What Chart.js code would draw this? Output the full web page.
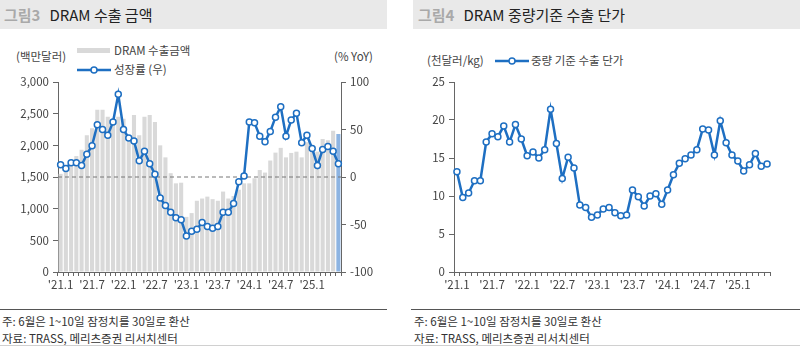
<!DOCTYPE html>
<html>
<head>
<meta charset="utf-8">
<script src="https://cdn.jsdelivr.net/npm/chart.js@4.4.1/dist/chart.umd.min.js"></script>
<style>
  body { margin: 0; width: 800px; height: 346px; background: #fff; position: relative; overflow: hidden;
         font-family: 'Noto Sans CJK KR', 'Noto Sans', sans-serif; color: #404040; }
  .abs { position: absolute; white-space: nowrap; }
  .band { position: absolute; top: 0; height: 29px; background: #e9e9e9; }
  .title { position: absolute; top: 4px; font-size: 15px; color: #222; }
  .title b { color: #a9a9a9; font-weight: bold; margin-right: 9px; }
  .unit { font-size: 11.5px; color: #444; }
  .leg { font-size: 11.5px; color: #444; }
  .foot { font-size: 11.5px; color: #333; }
  .rule { position: absolute; height: 1px; background: #555; }
</style>
</head>
<body>
<div class="band" style="left:0;width:387px"></div>
<div class="band" style="left:413px;width:387px"></div>
<div class="title" style="left:4px"><b>그림3</b>DRAM 수출 금액</div>
<div class="title" style="left:418px"><b>그림4</b>DRAM 중량기준 수출 단가</div>

<div class="abs unit" style="left:16px;top:48px">(백만달러)</div>
<div class="abs unit" style="left:334px;top:48px">(% YoY)</div>
<div class="abs" style="left:77px;top:48px;width:33px;height:5px;background:#d9d9d9"></div>
<div class="abs leg" style="left:114px;top:42px">DRAM 수출금액</div>
<svg class="abs" style="left:76px;top:64px" width="36" height="12"><line x1="1" y1="6" x2="35" y2="6" stroke="#1e6fc2" stroke-width="2.5"/><circle cx="18" cy="6" r="3" fill="#fff" stroke="#1e6fc2" stroke-width="1.5"/></svg>
<div class="abs leg" style="left:114px;top:61px">성장률 (우)</div>

<div class="abs unit" style="left:427px;top:52px">(천달러/kg)</div>
<svg class="abs" style="left:494px;top:55px" width="36" height="12"><line x1="1" y1="6" x2="35" y2="6" stroke="#1e6fc2" stroke-width="2.5"/><circle cx="18" cy="6" r="3" fill="#fff" stroke="#1e6fc2" stroke-width="1.5"/></svg>
<div class="abs leg" style="left:531px;top:52px">중량 기준 수출 단가</div>

<div class="abs" style="left:0;top:60px;width:392px;height:240px"><canvas id="c1"></canvas></div>
<div class="abs" style="left:400px;top:60px;width:400px;height:240px"><canvas id="c2"></canvas></div>

<div class="rule" style="left:0;top:309px;width:387px"></div>
<div class="rule" style="left:411px;top:309px;width:389px"></div>
<div class="abs foot" style="left:2px;top:313px">주: 6월은 1~10일 잠정치를 30일로 환산</div>
<div class="abs foot" style="left:2px;top:330px">자료: TRASS, 메리츠증권 리서치센터</div>
<div class="abs foot" style="left:414px;top:313px">주: 6월은 1~10일 잠정치를 30일로 환산</div>
<div class="abs foot" style="left:414px;top:330px">자료: TRASS, 메리츠증권 리서치센터</div>
<div class="abs" style="left:0;top:345px;width:800px;height:1px;background:#d0d0d0"></div>

<script>
// months '21.1 ~ '25.6
var years = [21, 22, 23, 24, 25];
var months = [];
for (var y = 0; y < years.length; y++) {
    for (var m = 1; m <= 12; m++) {
        if (years[y] == 25 && m > 6) break;
        months.push("'" + years[y] + '.' + m);
    }
}

// DRAM export value (US$ mn)
var exportValue = [
    1550, 1600, 1700, 1830, 1930, 2160, 2270, 2560, 2560, 2450, 2400, 2450,
    2420, 2160, 2480, 2160, 2450, 2480, 2370, 2000, 1810, 1560, 1400, 1410,
    870, 930, 1125, 1160, 1190, 1150, 1125, 1270, 1160, 1200, 1300, 1400,
    1400, 1480, 1610, 1570, 1760, 1885, 1960, 1810, 1880, 1900, 1810, 2050,
    1950, 1900, 2100, 2080, 2230, 2180
];
// growth rate (% YoY, right axis)
var growth = [
    13, 9, 15, 15, 12, 24, 33, 55, 50, 44, 58, 87,
    50, 41, 38, 17, 27, 14, 3, -22, -30, -37, -43, -45,
    -62, -57, -55, -48, -52, -54, -52, -37, -37, -28, -5, 1,
    58, 57, 43, 37, 48, 63, 74, 43, 60, 67, 36, 44,
    30, 12, 29, 32, 27, 14
];
// export unit price by weight (US$ thousand / kg)
var unitPrice = [
    13.2, 9.8, 10.4, 12.0, 12.0, 17.1, 18.2, 17.8, 19.2, 17.1, 19.4, 17.5,
    15.3, 15.8, 15.0, 16.1, 21.4, 16.9, 12.3, 15.1, 13.7, 8.8, 8.5, 7.2,
    7.5, 8.3, 8.5, 7.8, 7.4, 7.5, 10.8, 9.9, 8.7, 10.0, 10.3, 8.9,
    10.8, 12.8, 14.3, 14.9, 15.4, 16.1, 18.8, 18.7, 15.4, 19.9, 17.0, 15.4,
    14.6, 13.3, 14.1, 15.6, 13.9, 14.2
];

var blue = '#1e6fc2';
var tickFont = { family: "'Noto Sans CJK KR', 'Noto Sans', sans-serif", size: 11.5 };
var tickColor = '#444';
var axisColor = '#666';

function xLabel(val, i) {
    var lab = months[i];
    var m = lab.split('.')[1];
    return (m == '1' || m == '7') ? lab : '';
}
function fixW(w) { return function (s) { s.width = w; }; }
function fixH(h) { return function (s) { s.height = h; }; }

var barColors = exportValue.map(function (v, i) { return i == exportValue.length - 1 ? '#8db4e2' : '#d9d9d9'; });

var zeroLine = {
    id: 'zeroLine',
    afterDatasetDraw: function (chart, args) {
        if (args.index != 0) return;
        var ctx = chart.ctx, a = chart.chartArea;
        var py = chart.scales.y2.getPixelForValue(0);
        ctx.save();
        ctx.strokeStyle = '#777';
        ctx.lineWidth = 1;
        ctx.setLineDash([4, 3]);
        ctx.beginPath();
        ctx.moveTo(a.left, py);
        ctx.lineTo(a.right, py);
        ctx.stroke();
        ctx.restore();
    }
};

new Chart(document.getElementById('c1'), {
    type: 'bar',
    data: {
        labels: months,
        datasets: [{
            type: 'bar',
            data: exportValue,
            backgroundColor: barColors,
            barPercentage: 0.78,
            categoryPercentage: 1,
            yAxisID: 'y',
            order: 2
        }, {
            type: 'line',
            data: growth,
            borderColor: blue,
            borderWidth: 2.5,
            pointRadius: 3,
            pointBorderWidth: 1.5,
            pointBackgroundColor: '#fff',
            pointBorderColor: blue,
            tension: 0,
            yAxisID: 'y2',
            order: 1
        }]
    },
    options: {
        responsive: true,
        maintainAspectRatio: false,
        animation: false,
        layout: { padding: { top: 22, left: 0, right: 0, bottom: 0 } },
        plugins: { legend: { display: false }, tooltip: { enabled: false } },
        scales: {
            x: {
                afterFit: fixH(28),
                grid: { drawOnChartArea: false, tickLength: 4, color: axisColor },
                border: { color: axisColor },
                ticks: { autoSkip: false, maxRotation: 0, callback: xLabel, font: tickFont, color: tickColor, padding: 2 }
            },
            y: {
                position: 'left',
                min: 0, max: 3000,
                afterFit: fixW(58),
                grid: { drawOnChartArea: false, tickLength: 5, color: axisColor },
                border: { color: axisColor },
                ticks: { stepSize: 500, font: tickFont, color: tickColor, padding: 4,
                         callback: function (v) { return v.toLocaleString('en-US'); } }
            },
            y2: {
                position: 'right',
                min: -100, max: 100,
                afterFit: fixW(51),
                grid: { drawOnChartArea: false, tickLength: 5, color: axisColor },
                border: { color: axisColor },
                ticks: { stepSize: 50, font: tickFont, color: tickColor, padding: 4 }
            }
        }
    },
    plugins: [zeroLine]
});

new Chart(document.getElementById('c2'), {
    type: 'line',
    data: {
        labels: months,
        datasets: [{
            data: unitPrice,
            borderColor: blue,
            borderWidth: 2.5,
            pointRadius: 3,
            pointBorderWidth: 1.5,
            pointBackgroundColor: '#fff',
            pointBorderColor: blue,
            tension: 0
        }]
    },
    options: {
        responsive: true,
        maintainAspectRatio: false,
        animation: false,
        layout: { padding: { top: 22, left: 0, right: 30, bottom: 0 } },
        plugins: { legend: { display: false }, tooltip: { enabled: false } },
        scales: {
            x: {
                offset: true,
                afterFit: fixH(28),
                grid: { drawOnChartArea: false, tickLength: 4, color: axisColor, offset: true },
                border: { color: axisColor },
                ticks: { autoSkip: false, maxRotation: 0, callback: xLabel, font: tickFont, color: tickColor, padding: 2 }
            },
            y: {
                min: 0, max: 25,
                afterFit: fixW(54),
                grid: { drawOnChartArea: false, tickLength: 5, color: axisColor },
                border: { color: axisColor },
                ticks: { stepSize: 5, font: tickFont, color: tickColor, padding: 4 }
            }
        }
    }
});
</script>
</body>
</html>
